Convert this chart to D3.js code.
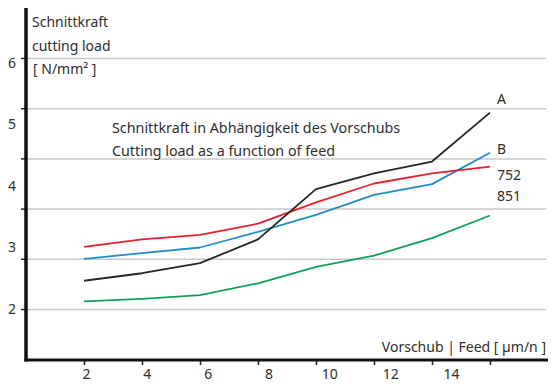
<!DOCTYPE html>
<html>
<head>
<meta charset="utf-8">
<script src="https://cdn.jsdelivr.net/npm/d3@7/dist/d3.min.js"></script>
<style>
  html, body { margin: 0; padding: 0; background: #fff; }
  svg { display: block; }
  text { font-family: "Noto Sans", "Open Sans", sans-serif; fill: #2e2e2e; }
</style>
</head>
<body>
<svg id="chart" width="552" height="386"></svg>
<script>
// Feed (µm/n) at each measured point
const feed = [2, 4, 6, 8, 10, 12, 14, 16];
// Cutting load (N/mm²) per material
const seriesA   = [2.45, 2.57, 2.73, 3.11, 3.91, 4.16, 4.35, 5.13];
const seriesB   = [2.80, 2.89, 2.98, 3.23, 3.50, 3.82, 3.99, 4.49];
const series752 = [2.99, 3.11, 3.18, 3.36, 3.70, 4.00, 4.16, 4.27];
const series851 = [2.12, 2.16, 2.22, 2.41, 2.67, 2.85, 3.13, 3.49];
const seriesNames = ["A", "B", "752", "851"];
const seriesColors = ["#262626", "#1e8ec8", "#e8202c", "#11a05a"];

// Axis labelling
const xTickLabels = [2, 4, 6, 8, 10, 12, 14];
const yTickLabels = [2, 3, 4, 5, 6];
const gridValues = [2, 2.8, 3.6, 4.4, 5.2, 6];

const svg = d3.select("#chart");

const x = d3.scaleLinear().domain([2, 16]).range([84, 490]);
const xLab = d3.scaleLinear().domain([2, 14]).range([86, 451]);
const y = d3.scaleLinear().domain([2, 6]).range([309, 58]);
const yLab = d3.scaleLinear().domain([2, 6]).range([309, 63]);

const axisX = 26, axisY = 360, rightEdge = 546;

// horizontal grid
const grid = svg.append("g").attr("transform", `translate(${axisX},0)`)
  .call(d3.axisLeft(y).tickValues(gridValues).tickSize(-(rightEdge - axisX)).tickFormat(""));
grid.select(".domain").remove();
grid.selectAll(".tick line").attr("stroke", "#c9c9c9").attr("stroke-width", 1.5);

// y tick marks on the axis
const yTicks = svg.append("g").attr("transform", `translate(${axisX + 1},0)`)
  .call(d3.axisLeft(y).tickValues(gridValues).tickSize(6).tickFormat(""));
yTicks.select(".domain").remove();
yTicks.selectAll(".tick line").attr("stroke", "#222").attr("stroke-width", 1.5);

// y labels
const yLabels = svg.append("g").attr("transform", `translate(${axisX - 7},0)`)
  .call(d3.axisLeft(yLab).tickValues(yTickLabels).tickSize(0).tickFormat(d3.format("d")));
yLabels.select(".domain").remove();
yLabels.selectAll(".tick text").attr("font-size", 14).attr("fill", "#3a3a3a")
  .style("font-family", '"Noto Sans", sans-serif');

// x tick marks
const xTicks = svg.append("g").attr("transform", `translate(0,${axisY})`)
  .call(d3.axisBottom(x).tickValues(feed).tickSize(5).tickFormat(""));
xTicks.select(".domain").remove();
xTicks.selectAll(".tick line").attr("stroke", "#222").attr("stroke-width", 1.5);

// x labels
const xLabels = svg.append("g").attr("transform", `translate(0,${axisY + 6})`)
  .call(d3.axisBottom(xLab).tickValues(xTickLabels).tickSize(0).tickFormat(d3.format("d")));
xLabels.select(".domain").remove();
xLabels.selectAll(".tick text").attr("font-size", 14).attr("fill", "#3a3a3a")
  .style("font-family", '"Noto Sans", sans-serif');

// axis lines
svg.append("line").attr("x1", axisX).attr("x2", axisX).attr("y1", 8).attr("y2", axisY + 1.5)
  .attr("stroke", "#111").attr("stroke-width", 3.5);
svg.append("line").attr("x1", axisX - 1.5).attr("x2", 548).attr("y1", axisY).attr("y2", axisY)
  .attr("stroke", "#111").attr("stroke-width", 3);

// series lines
const allSeries = [seriesA, seriesB, series752, series851];
const line = d3.line().x((d, i) => x(feed[i])).y(d => y(d));
// draw order: green, blue, red, black on top
[3, 1, 2, 0].forEach(k => {
  svg.append("path").datum(allSeries[k])
    .attr("d", line)
    .attr("fill", "none")
    .attr("stroke", seriesColors[k])
    .attr("stroke-width", 1.8)
    .attr("stroke-linejoin", "round");
});

// series labels near line ends
const labelYs = [104, 154, 180, 201];
seriesNames.forEach((n, k) => {
  svg.append("text").attr("x", 497).attr("y", labelYs[k])
    .attr("font-size", 14).text(n);
});

// y-axis title
const yTitle = ["Schnittkraft", "cutting load", "[ N/mm² ]"];
yTitle.forEach((t, i) => {
  svg.append("text").attr("x", 32 + (i === 2 ? 1 : 0)).attr("y", 27 + i * 23.5)
    .attr("font-size", 14).text(t);
});

// chart title
const title = ["Schnittkraft in Abhängigkeit des Vorschubs", "Cutting load as a function of feed"];
title.forEach((t, i) => {
  svg.append("text").attr("x", 112).attr("y", 133 + i * 23).attr("font-size", 14.3).text(t);
});

// x-axis title
svg.append("text").attr("x", 546).attr("y", 352).attr("text-anchor", "end")
  .attr("font-size", 14).text("Vorschub | Feed [ µm/n ]");
</script>
</body>
</html>
